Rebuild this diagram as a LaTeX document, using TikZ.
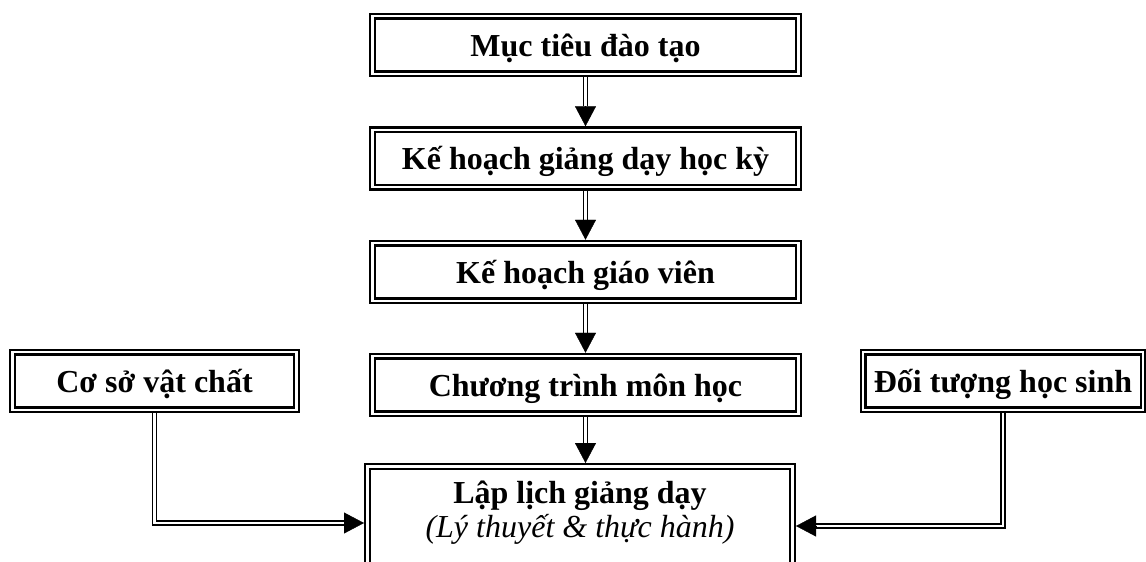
\documentclass[tikz,border=0pt]{standalone}
\usepackage{fontspec}
\setmainfont{Liberation Serif}
\usetikzlibrary{arrows.meta}
\tikzset{
  box/.style={draw=black, double=white, line width=2.4pt, double distance=2.2pt,
    line join=miter, minimum width=#1, minimum height=57.5pt, inner sep=0pt,
    outer sep=3.5pt, text height=22pt, text depth=0pt,
    font=\fontsize{32}{36}\selectfont\bfseries},
  dbl/.style={draw=black, double=white, line width=1.8pt, double distance=2.2pt, line join=miter},
  head/.style={line width=0.4pt, -{Triangle[length=20pt,width=21pt]}},
  boldtxt/.style={anchor=base, inner sep=0pt, font=\fontsize{32}{36}\selectfont\bfseries},
  itxt/.style={anchor=base, inner sep=0pt, font=\fontsize{32}{36}\selectfont\itshape}
}
\begin{document}
\begin{tikzpicture}[x=1pt,y=-1pt]
\useasboundingbox (0,0) rectangle (1146,562);
\clip (0,0) rectangle (1146,562);
\node[box=426pt] (b1) at (585.5,45) {Mục tiêu đào tạo};
\node[box=426pt] (b2) at (585.5,158.5) {Kế hoạch giảng dạy học kỳ};
\node[box=426pt] (b3) at (585.5,272) {Kế hoạch giáo viên};
\node[box=426pt] (b4) at (585.5,385) {Chương trình môn học};
\node[box=284pt] (lb) at (154.5,381) {Cơ sở vật chất};
\node[box=280pt] (rb) at (1003,381) {Đối tượng học sinh};
\node[box=425pt, minimum height=140pt] (b5) at (580,536.5) {};
\node[boldtxt] (t5a) at (580,503) {Lập lịch giảng dạy};
\node[itxt] (t5b) at (580,537) {(Lý thuyết \& thực hành)};
% central arrows
\draw[dbl] (b1.south) -- ([yshift=20pt]b2.north);
\draw[head] ([yshift=20pt]b2.north) -- (b2.north);
\draw[dbl] (b2.south) -- ([yshift=20pt]b3.north);
\draw[head] ([yshift=20pt]b3.north) -- (b3.north);
\draw[dbl] (b3.south) -- ([yshift=20pt]b4.north);
\draw[head] ([yshift=20pt]b4.north) -- (b4.north);
\coordinate (c5) at (b4.south |- b5.north);
\draw[dbl] (b4.south) -- ([yshift=20pt]c5);
\draw[head] ([yshift=20pt]c5) -- (c5);
% side arrows
\coordinate (lk) at (154.5,523);
\coordinate (lt) at (b5.west |- lk);
\draw[dbl] (lb.south) -- (lk) -- ([xshift=-20pt]lt);
\draw[head] ([xshift=-20pt]lt) -- (lt);
\coordinate (rk) at (1003,526);
\coordinate (rt) at (b5.east |- rk);
\draw[dbl] (rb.south) -- (rk) -- ([xshift=20pt]rt);
\draw[head] ([xshift=20pt]rt) -- (rt);
\end{tikzpicture}
\end{document}
